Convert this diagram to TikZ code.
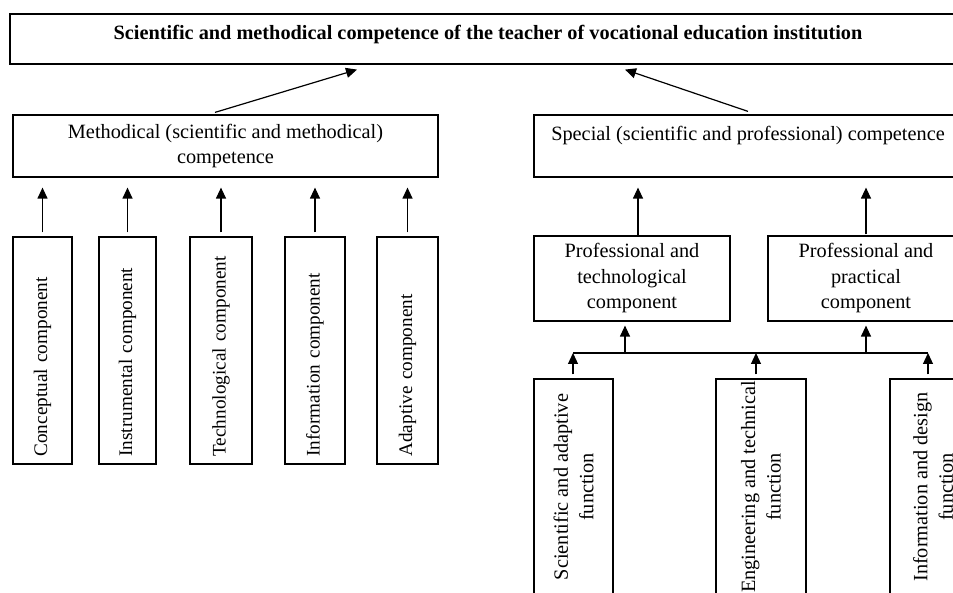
\documentclass[tikz,border=0pt]{standalone}
\usepackage{fontspec}
\setmainfont{Liberation Serif}
\usetikzlibrary{arrows.meta}
\begin{document}
\begin{tikzpicture}
[x=1pt,y=-1pt,
  boxdecorate/.style={shape=rectangle,draw,line width=1.2pt,align=center,inner sep=2pt,%
    font=\fontsize{20.3}{25.5}\selectfont},
  compdecorate/.style={boxdecorate,rotate=90,align=left,text width=212pt,inner xsep=7.5pt,%
    minimum height=60pt,font=\fontsize{19.2}{24}\selectfont},
  funcdecorate/.style={boxdecorate,rotate=90,minimum width=216pt},
  arrowdecorate/.style={-{Triangle[length=11pt,width=10pt]},line width=1.2pt},
  busdecorate/.style={line width=1.2pt}]
\useasboundingbox (0,0) rectangle (953,593);
\clip (0,0) rectangle (953,593);
% nodes or boxes
\node (top) at (488,39) [boxdecorate,minimum width=956pt,minimum height=50pt,text depth=13pt]
  {\textbf{Scientific and methodical competence of the teacher of vocational education institution}};
\node (meth) at (225.5,146) [boxdecorate,minimum width=425pt,minimum height=62pt]
  {Methodical (scientific and methodical)\\competence};
\node (spec) at (748,146) [boxdecorate,minimum width=428pt,minimum height=62pt]
  {Special (scientific and professional) competence\\\mbox{}};
\node (conc) at (42.5,350.5) [compdecorate,minimum height=59pt] {Conceptual component};
\node (inst) at (127.5,350.5) [compdecorate,minimum height=57pt] {Instrumental component};
\node (tech) at (221,350.5) [compdecorate,minimum height=62pt] {Technological component};
\node (info) at (315,350.5) [compdecorate] {Information component};
\node (adap) at (407.5,350.5) [compdecorate,minimum height=61pt] {Adaptive component};
\node (ptech) at (632,278.5) [boxdecorate,minimum width=196pt,minimum height=85pt]
  {Professional and\\technological\\component};
\node (pprac) at (866,278.5) [boxdecorate,minimum width=196pt,minimum height=85pt]
  {Professional and\\practical\\component};
\node (sci) at (573.5,487) [funcdecorate,minimum height=79pt] {Scientific and adaptive\\function};
\node (eng) at (761,487) [funcdecorate,minimum height=90pt] {Engineering and technical\\function};
\node (infd) at (933,487) [funcdecorate,minimum height=86pt] {Information and design\\function};
% bus and arrow ends
\coordinate (busl) at (573,353);
\coordinate (busr) at (928,353);
\coordinate (bus1) at (625,353);
\coordinate (bus2) at (866,353);
\coordinate (bus3) at (756,353);
\coordinate (up1) at (638,235);
\draw[busdecorate] (busl) -- (busr);
% edges or arrows
\path
([xshift=-10.5pt,yshift=2pt]meth.north) edge[arrowdecorate] ([xshift=-131pt,yshift=-5pt]top.south)
([yshift=3pt]spec.north) edge[arrowdecorate] ([xshift=137pt,yshift=-5pt]top.south)
(conc.east) edge[arrowdecorate,shorten <=4pt,shorten >=10pt] (conc.east |- meth.south)
(inst.east) edge[arrowdecorate,shorten <=4pt,shorten >=10pt] (inst.east |- meth.south)
(tech.east) edge[arrowdecorate,shorten <=4pt,shorten >=10pt] (tech.east |- meth.south)
(info.east) edge[arrowdecorate,shorten <=4pt,shorten >=10pt] (info.east |- meth.south)
(adap.east) edge[arrowdecorate,shorten <=4pt,shorten >=10pt] (adap.east |- meth.south)
(up1) edge[arrowdecorate,shorten >=10pt] (up1 |- spec.south)
(pprac.north) edge[arrowdecorate,shorten <=1pt,shorten >=10pt] (pprac.north |- spec.south)
(bus1) edge[arrowdecorate,shorten >=4pt] (bus1 |- ptech.south)
(bus2) edge[arrowdecorate,shorten >=4pt] (bus2 |- pprac.south)
(busl |- sci.east) edge[arrowdecorate,shorten <=4pt] (busl)
(bus3 |- eng.east) edge[arrowdecorate,shorten <=4pt] (bus3)
(busr |- infd.east) edge[arrowdecorate,shorten <=4pt] (busr);
\end{tikzpicture}
\end{document}
